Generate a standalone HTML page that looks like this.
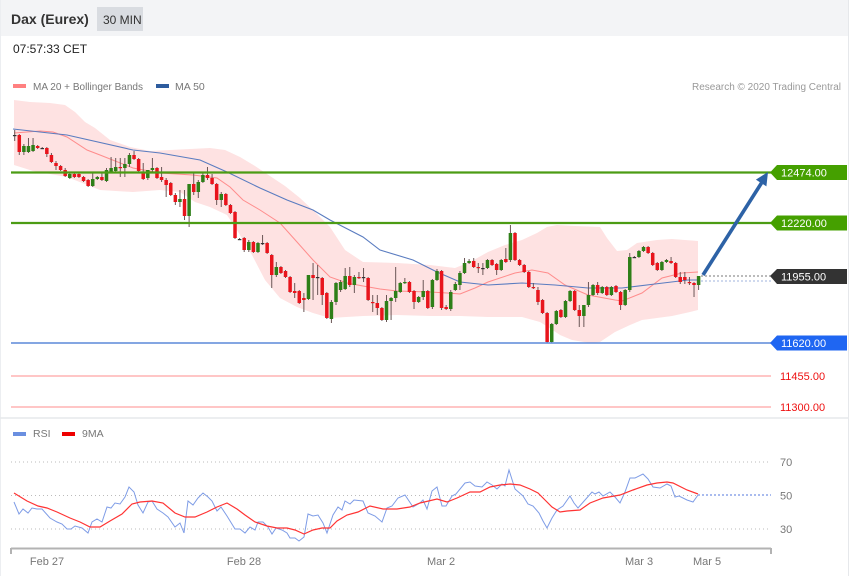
<!DOCTYPE html>
<html><head><meta charset="utf-8">
<style>
html,body{margin:0;padding:0;background:#fff;}
body{width:850px;height:576px;overflow:hidden;position:relative;font-family:"Liberation Sans",Arial,sans-serif;}
#wrap{position:absolute;left:0;top:0;width:850px;height:576px;}
</style></head>
<body>
<div id="wrap">
<svg id="s" width="850" height="576" viewBox="0 0 850 576" xmlns="http://www.w3.org/2000/svg" font-family="Liberation Sans, Arial, sans-serif">
<rect x="0" y="0" width="850" height="576" fill="#fff"/>
<rect x="0" y="0" width="848" height="36" fill="#f3f4f6"/>
<rect x="97" y="7" width="46" height="24" fill="#d9dce1"/>
<text x="11" y="24" font-size="14" font-weight="bold" fill="#333">Dax (Eurex)</text>
<text x="103" y="24" font-size="12" fill="#333">30 MIN</text>
<text x="13" y="53" font-size="12" fill="#222">07:57:33 CET</text>
<line x1="0.5" y1="0" x2="0.5" y2="576" stroke="#eceef1" stroke-width="1"/>
<line x1="848.5" y1="0" x2="848.5" y2="576" stroke="#e6e8eb" stroke-width="1"/>
<line x1="0" y1="418" x2="848" y2="418" stroke="#e6e8eb" stroke-width="1.5"/>

<rect x="13" y="84" width="13" height="4" fill="#ff8080"/>
<text x="33" y="90" font-size="10.5" fill="#777" textLength="110" lengthAdjust="spacingAndGlyphs">MA 20 + Bollinger Bands</text>
<rect x="156" y="84" width="13" height="4" fill="#2e5c9e"/>
<text x="175" y="90" font-size="10.5" fill="#777">MA 50</text>
<text x="841" y="90" font-size="10" fill="#999" text-anchor="end" textLength="149" lengthAdjust="spacingAndGlyphs">Research © 2020 Trading Central</text>

<g id="main"></g>

<!-- horizontal levels -->
<line x1="11" y1="172.5" x2="771" y2="172.5" stroke="#4c9c14" stroke-width="2.2"/>
<line x1="11" y1="223" x2="771" y2="223" stroke="#4c9c14" stroke-width="2.2"/>
<line x1="11" y1="343" x2="771" y2="343" stroke="#5b88d8" stroke-width="1.5"/>
<line x1="11" y1="376" x2="771" y2="376" stroke="#ffb3b3" stroke-width="1.5"/>
<line x1="11" y1="407" x2="771" y2="407" stroke="#ffb3b3" stroke-width="1.5"/>
<line x1="701" y1="276" x2="771" y2="276" stroke="#777" stroke-width="1" stroke-dasharray="2,2"/>
<line x1="701" y1="281" x2="771" y2="281" stroke="#9fb3dd" stroke-width="1" stroke-dasharray="2,2"/>

<polygon points="770,172.5 777,165 847,165 847,180 777,180" fill="#45a000"/>
<text x="781" y="176.5" font-size="11" fill="#fff">12474.00</text>
<polygon points="770,223 777,215.5 847,215.5 847,230.5 777,230.5" fill="#45a000"/>
<text x="781" y="227" font-size="11" fill="#fff">12220.00</text>
<polygon points="770,276 777,269 847,269 847,284 777,284" fill="#333"/>
<text x="781" y="280.5" font-size="11" fill="#fff">11955.00</text>
<polygon points="770,343 777,335.5 847,335.5 847,350.5 777,350.5" fill="#1f66f2"/>
<text x="781" y="347" font-size="11" fill="#fff">11620.00</text>
<text x="780" y="380" font-size="11" fill="#ee1111">11455.00</text>
<text x="780" y="411" font-size="11" fill="#ee1111">11300.00</text>

<!-- arrow -->
<line x1="703" y1="275" x2="761.5" y2="183" stroke="#2d62a6" stroke-width="3.6"/>
<polygon points="768,172 766.4,186.4 755.9,179.6" fill="#2d62a6"/>

<!-- RSI panel -->
<rect x="13" y="432" width="13" height="4" fill="#6a8fe0"/>
<text x="33" y="437" font-size="10.5" fill="#777">RSI</text>
<rect x="62" y="432" width="13" height="4" fill="#ee0000"/>
<text x="82" y="437" font-size="10.5" fill="#777">9MA</text>
<line x1="11" y1="462" x2="768" y2="462" stroke="#bbb" stroke-width="1" stroke-dasharray="1,3"/>
<line x1="11" y1="495.5" x2="768" y2="495.5" stroke="#bbb" stroke-width="1" stroke-dasharray="1,3"/>
<line x1="11" y1="529" x2="768" y2="529" stroke="#bbb" stroke-width="1" stroke-dasharray="1,3"/>
<text x="780" y="466" font-size="11" fill="#777">70</text>
<text x="780" y="499.5" font-size="11" fill="#777">50</text>
<text x="780" y="533" font-size="11" fill="#777">30</text>
<g id="rsi"></g>
<line x1="698" y1="495" x2="771" y2="495" stroke="#a9bbee" stroke-width="2" stroke-dasharray="2,2"/>
<line x1="11" y1="548.5" x2="771" y2="548.5" stroke="#b3b3b3" stroke-width="2"/>
<line x1="11" y1="548" x2="11" y2="554" stroke="#b3b3b3" stroke-width="2"/>
<line x1="771" y1="548" x2="771" y2="554" stroke="#b3b3b3" stroke-width="2"/>
<text x="47" y="565" font-size="11" fill="#777" text-anchor="middle">Feb 27</text>
<text x="244" y="565" font-size="11" fill="#777" text-anchor="middle">Feb 28</text>
<text x="441" y="565" font-size="11" fill="#777" text-anchor="middle">Mar 2</text>
<text x="639" y="565" font-size="11" fill="#777" text-anchor="middle">Mar 3</text>
<text x="707" y="565" font-size="11" fill="#777" text-anchor="middle">Mar 5</text>
</svg>
</div>
<script>
(function(){
var up=[[14,100],[30,102],[50,103],[65,105],[75,112],[85,122],[95,128],[110,140],[130,147],[150,151],[170,150],[190,149],[210,148],[225,150],[240,157],[255,166],[270,176],[285,186],[300,198],[315,212],[330,227],[345,250],[363,262],[397,263],[430,265],[455,268],[470,262],[488,252],[505,245],[522,240],[537,233],[547,227],[557,225],[575,226],[600,227],[607,238],[617,251],[627,250],[637,243],[657,240],[672,239],[698,241]];
var lo=[[14,165],[33,171],[67,177],[100,190],[133,192],[160,190],[180,192],[195,202],[210,207],[227,215],[240,235],[252,255],[265,280],[280,298],[297,307],[313,313],[330,318],[363,316],[397,315],[430,316],[460,316],[488,317],[522,317],[540,322],[548,327],[560,335],[572,340],[590,343],[600,342],[615,332],[630,325],[642,320],[672,316],[690,312],[698,310]];
var ma20=[[14,133],[40,131],[53,132],[67,137],[87,150],[100,155],[133,168],[160,173],[193,175],[217,178],[230,187],[243,200],[260,210],[280,223],[297,242],[313,260],[330,277],[347,283],[363,286],[380,289],[397,291],[430,292],[447,293],[460,294],[475,288],[488,282],[515,273],[532,270],[548,273],[565,285],[588,295],[615,300],[622,301],[642,293],[662,278],[682,273],[698,272]];
var ma50=[[13,129],[67,135],[133,150],[160,153],[200,160],[227,172],[260,188],[287,200],[313,210],[330,220],[363,237],[380,250],[413,260],[437,272],[460,282],[488,285],[522,283],[555,285],[588,288],[622,288],[655,284],[688,280],[698,280]];
var C=[[135,135,130,141],[135,152,134,155],[152,146,144,155],[152,146,138,153],[151,145,138,152],[146,148,145,149],[148,148,147,149],[148,154,147,157],[155,162,153,163],[163,166,161,170],[166,170,165,171],[170,176,168,177],[178,174,173,179],[174,177,173,178],[174,177,173,178],[177,181,176,182],[180,186,179,187],[186,179,173,187],[179,177,176,180],[177,180,173,181],[181,170,168,182],[172,168,157,173],[171,167,158,172],[167,168,158,177],[168,164,158,177],[164,155,153,167],[155,159,151,160],[159,171,158,172],[173,179,163,180],[178,170,170,180],[170,168,158,172],[168,178,167,179],[177,180,167,182],[180,185,178,197],[183,195,182,196],[195,202,193,205],[202,199,190,207],[199,216,190,220],[216,184,184,227],[184,192,172,195],[192,182,180,198],[182,175,172,183],[175,178,167,180],[178,184,174,185],[184,200,183,205],[200,194,192,207],[194,205,193,206],[205,213,204,214],[212,238,211,239],[239,239,238,240],[238,250,237,252],[250,242,240,252],[242,252,241,253],[252,243,242,253],[243,243,235,245],[243,253,242,254],[255,275,254,288],[275,267,262,277],[267,273,266,274],[271,277,270,278],[277,292,276,293],[291,293,283,298],[291,303,290,304],[298,300,293,312],[299,275,275,300],[275,278,263,300],[277,277,265,295],[278,295,277,305],[293,318,292,319],[319,302,300,323],[302,283,282,305],[290,282,280,292],[289,276,268,290],[276,285,267,287],[285,277,275,293],[277,278,272,279],[277,277,268,282],[278,300,277,301],[302,303,295,312],[303,308,295,315],[308,320,307,321],[320,301,295,322],[301,298,297,320],[298,291,267,302],[292,283,282,293],[283,282,278,284],[282,292,281,293],[291,302,290,309],[302,297,296,303],[297,291,280,300],[291,308,290,309],[307,280,279,309],[280,271,269,281],[271,308,270,310],[307,309,305,310],[309,292,290,311],[290,284,282,291],[285,273,271,290],[273,263,258,274],[263,261,259,264],[261,267,258,268],[267,268,263,273],[268,268,263,275],[268,260,259,269],[260,265,259,266],[264,270,263,275],[270,260,259,271],[259,262,248,263],[260,233,225,262],[233,260,232,261],[260,265,259,266],[265,272,264,273],[272,287,271,288],[287,288,283,289],[290,302,287,305],[300,313,299,314],[313,342,312,343],[342,324,323,343],[324,311,310,325],[310,317,309,318],[317,301,300,318],[301,291,290,302],[291,310,290,311],[310,316,305,327],[316,305,305,327],[305,295,282,307],[295,285,284,296],[285,293,282,295],[293,287,286,294],[287,295,286,296],[295,287,286,296],[286,292,285,293],[292,305,291,310],[305,290,289,306],[290,257,253,292],[257,257,256,258],[257,251,250,258],[251,247,246,252],[247,253,246,254],[253,265,252,266],[263,270,262,271],[270,262,261,271],[262,260,259,263],[261,263,257,264],[263,277,262,278],[277,282,272,284],[277,280,272,284],[282,283,277,285],[283,285,282,297],[285,276,276,290]];
var rsi=[[14,502],[19,514],[23,509],[28,513],[32,508],[37,509],[42,509],[50,518],[57,522],[62,524],[67,529],[71,529],[75,526],[82,528],[88,533],[92,522],[97,519],[102,522],[107,507],[111,508],[115,503],[120,504],[125,497],[129,487],[134,492],[138,505],[143,513],[148,502],[152,501],[157,509],[163,513],[168,517],[175,527],[180,523],[184,533],[188,501],[193,505],[198,498],[203,493],[208,497],[212,501],[217,511],[221,507],[227,516],[235,529],[240,529],[245,533],[250,527],[255,530],[258,522],[263,522],[268,527],[272,534],[276,528],[282,530],[287,533],[290,538],[295,538],[299,541],[304,537],[308,514],[313,516],[318,515],[323,523],[327,533],[333,515],[338,507],[342,510],[345,501],[350,504],[354,500],[363,501],[368,513],[375,516],[382,522],[387,508],[392,506],[398,498],[405,495],[413,507],[420,503],[423,500],[427,509],[432,491],[437,487],[442,506],[446,506],[452,496],[456,494],[465,483],[470,482],[475,486],[482,487],[487,482],[492,485],[497,489],[502,484],[505,486],[509,470],[515,489],[523,496],[528,504],[533,506],[539,513],[543,521],[547,528],[552,518],[557,510],[563,506],[570,496],[574,503],[578,508],[585,500],[592,492],[595,494],[599,492],[603,496],[610,492],[615,497],[620,503],[625,492],[630,478],[635,478],[643,474],[648,479],[653,487],[660,488],[667,484],[671,486],[675,497],[679,496],[687,500],[693,502],[698,495]];
var rma=[[14,493],[27,501],[38,506],[47,508],[57,512],[70,518],[80,522],[90,527],[100,527],[110,521],[122,514],[132,504],[140,502],[152,501],[163,503],[175,513],[185,517],[195,517],[207,512],[217,507],[227,503],[237,509],[245,515],[255,522],[267,526],[277,528],[287,528],[295,530],[304,534],[313,530],[322,528],[330,528],[337,521],[347,515],[358,512],[370,506],[383,509],[397,509],[410,507],[420,503],[437,499],[447,502],[457,498],[470,492],[480,492],[490,487],[500,485],[510,484],[520,485],[530,489],[538,493],[545,500],[552,507],[560,512],[567,511],[580,510],[590,503],[603,498],[620,495],[633,490],[647,485],[657,483],[667,482],[673,483],[687,490],[698,494]];
function pts(a){return a.map(function(p){return p[0]+','+p[1];}).join(' ');}
var s='';
s+='<polygon points="'+pts(up)+' '+pts(lo.slice().reverse())+'" fill="#fee2e2"/>';
s+='<polyline points="'+pts(ma20)+'" fill="none" stroke="#ff8c8c" stroke-width="1"/>';
s+='<polyline points="'+pts(ma50)+'" fill="none" stroke="#5a7cc0" stroke-width="1.1"/>';
for(var i=0;i<C.length;i++){
 var c=C[i],x=14.7+i*4.59,o=c[0],cl=c[1];
 var top=Math.min(o,cl),bot=Math.max(o,cl);
 var hh=Math.min(c[2],top),ll=Math.max(c[3],bot);
 var col=o<cl?'#e8141c':(o>cl?'#2e7f18':'#333');
 s+='<line x1="'+x.toFixed(2)+'" y1="'+hh+'" x2="'+x.toFixed(2)+'" y2="'+ll+'" stroke="#6a5656" stroke-width="1"/>';
 s+='<rect x="'+(x-1.75).toFixed(2)+'" y="'+top+'" width="3.5" height="'+Math.max(bot-top,1.2)+'" fill="'+col+'"/>';
}
document.getElementById('main').innerHTML=s;
var r='<polyline points="'+pts(rsi)+'" fill="none" stroke="#7e9ce6" stroke-width="1"/>';
r+='<polyline points="'+pts(rma)+'" fill="none" stroke="#ff3333" stroke-width="1.2"/>';
document.getElementById('rsi').innerHTML=r;
})();
</script>
</body></html>
